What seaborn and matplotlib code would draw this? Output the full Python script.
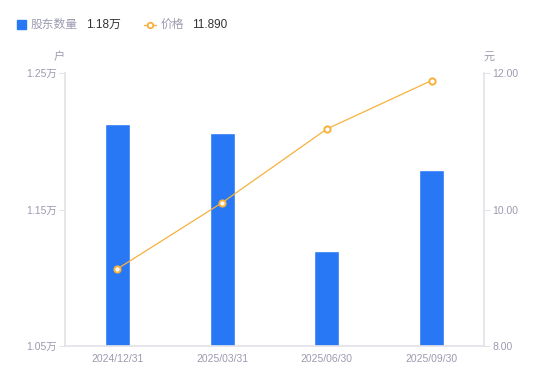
import matplotlib
matplotlib.use("Agg")
import matplotlib.pyplot as plt
import seaborn as sns
import pandas as pd
from matplotlib.lines import Line2D
from matplotlib.patches import Rectangle

dates = ["2024/12/31", "2025/03/31", "2025/06/30", "2025/09/30"]
holders = [1.2126, 1.2060, 1.1196, 1.1789]   # 万户
price = [9.13, 10.10, 11.18, 11.89]
left_ticks = [1.05, 1.15, 1.25]
right_ticks = [8.0, 10.0, 12.0]

blue = "#2878f5"
orange = "#f7b13c"
grey = "#9b9bb0"
axis_grey = "#e3e3e8"

sns.set_theme(style="white")
plt.rcParams["font.family"] = ["Liberation Sans", "Noto Sans CJK SC", "DejaVu Sans"]

df = pd.DataFrame({"date": dates, "holders": holders, "price": price})

fig = plt.figure(figsize=(5.5, 3.81), dpi=100)
ax = fig.add_axes([65 / 550, 1 - 346 / 381, 419 / 550, 273 / 381])

sns.barplot(data=df, x="date", y="holders", color=blue, width=0.24,
            saturation=1, ax=ax)
ax.set_xlim(-0.5, 3.5)
ax.set_ylim(1.05, 1.25)
ax.set_yticks(left_ticks)
ax.set_yticklabels([f"{v:.2f}万" for v in left_ticks])
ax.set_xlabel("")
ax.set_ylabel("")

ax2 = ax.twinx()
sns.lineplot(x=list(range(len(dates))), y=price, ax=ax2, color=orange,
             linewidth=0.9, marker="o", markersize=4.5, markerfacecolor="white",
             markeredgecolor=orange, markeredgewidth=1.4)
ax2.set_ylim(8, 12)
ax2.set_yticks(right_ticks)
ax2.set_yticklabels([f"{v:.2f}" for v in right_ticks])
ax2.set_xlim(-0.5, 3.5)

for a in (ax, ax2):
    for s in a.spines.values():
        s.set_visible(False)
    a.tick_params(colors=grey, labelsize=7.5, length=4, width=0.8, color=axis_grey)
    a.grid(False)
ax.spines["left"].set_visible(True)
ax.spines["left"].set_color(axis_grey)
ax.spines["bottom"].set_visible(True)
ax.spines["bottom"].set_color(axis_grey)
ax2.spines["right"].set_visible(True)
ax2.spines["right"].set_color(axis_grey)
ax.tick_params(axis="x", length=0, pad=6)
ax.tick_params(axis="y", pad=2)
ax2.tick_params(axis="y", pad=2)

# unit labels
fig.text(59 / 550, 1 - 57 / 381, "户", color=grey, fontsize=8, ha="center", va="center")
fig.text(489 / 550, 1 - 57 / 381, "元", color=grey, fontsize=8, ha="center", va="center")

# legend
fig.add_artist(Rectangle((17 / 550, 1 - 29 / 381), 9 / 550, 9 / 381,
                         transform=fig.transFigure, color=blue))
fig.text(31 / 550, 1 - 24.5 / 381, "股东数量", color=grey, fontsize=8.5, va="center")
fig.text(86 / 550, 1 - 24.5 / 381, "1.18万", color="#333333", fontsize=8.5, va="center")
fig.add_artist(Line2D([144 / 550, 156 / 550], [1 - 24.5 / 381, 1 - 24.5 / 381],
                      transform=fig.transFigure, color=orange, linewidth=1,
                      marker="o", markevery=[0], markersize=0))
fig.add_artist(Line2D([150 / 550], [1 - 24.5 / 381], transform=fig.transFigure,
                      marker="o", markersize=4, markerfacecolor="white",
                      markeredgecolor=orange, markeredgewidth=1.3))
fig.text(161 / 550, 1 - 24.5 / 381, "价格", color=grey, fontsize=8.5, va="center")
fig.text(192 / 550, 1 - 24.5 / 381, "11.890", color="#333333", fontsize=8.5, va="center")

fig.savefig("out.png", dpi=100)
